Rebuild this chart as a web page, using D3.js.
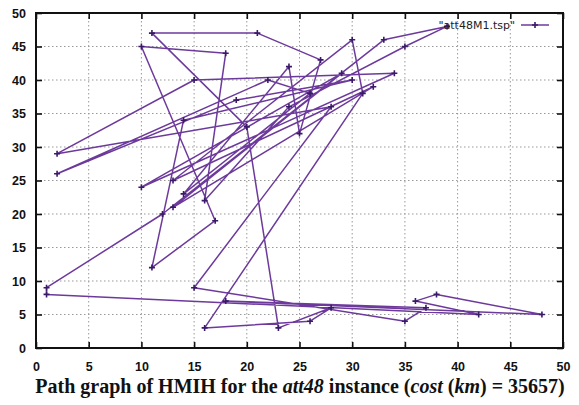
<!DOCTYPE html>
<html lang="en">
<head>
<meta charset="UTF-8">
<title>att48 path graph</title>
<script src="https://d3js.org/d3.v7.min.js"></script>
<style>
  body { margin: 0; background: #fff; }
  .tick text { font-family: "Liberation Sans Narrow", "Liberation Sans", Arial, sans-serif; font-weight: bold; font-size: 12.5px; fill: #111; }
  .grid line { stroke: #999; stroke-dasharray: 1.5,2.5; stroke-width: 1; }
  .caption { font-family: "Liberation Serif", "Times New Roman", serif; font-weight: bold; font-size: 20px; fill: #111; }
  .legend-text { font-family: "DejaVu Sans", sans-serif; font-size: 11px; fill: #222; }
</style>
</head>
<body>
<svg width="579" height="405"></svg>
<script>
// tour of the att48 instance (scaled coordinates), in visiting order
const tourX = [39, 33, 12, 1, 1, 42, 36, 38, 48, 18, 37, 35, 15, 28, 2, 15, 34, 10, 29, 13, 32, 13, 30, 31,
               16, 26, 28, 23, 20, 11, 21, 27, 25, 24, 14, 26, 22, 2, 19, 30, 14, 11, 17, 10, 18, 16, 24, 35];
const tourY = [48, 46, 20, 9, 8, 5, 7, 8, 5, 7, 6, 4, 9, 36, 29, 40, 41, 24, 41, 21, 39, 25, 46, 38,
               3, 4, 6, 3, 33, 47, 47, 43, 32, 42, 23, 38, 40, 26, 37, 40, 34, 12, 19, 45, 44, 22, 36, 45];
const xTicks = [0, 5, 10, 15, 20, 25, 30, 35, 40, 45, 50];
const yTicks = [0, 5, 10, 15, 20, 25, 30, 35, 40, 45, 50];
const legendLabel = "\"att48M1.tsp\"";

const svg = d3.select("svg");
const margin = {top: 13, right: 16, bottom: 57, left: 36};
const width = 579 - margin.left - margin.right,
      height = 405 - margin.top - margin.bottom;
const g = svg.append("g").attr("transform", `translate(${margin.left},${margin.top})`);

const x = d3.scaleLinear().domain([0, 50]).range([0, width]);
const y = d3.scaleLinear().domain([0, 50]).range([height, 0]);

// dotted grid
g.append("g").attr("class", "grid")
  .selectAll("line").data(xTicks.slice(1, -1)).enter().append("line")
  .attr("x1", d => x(d)).attr("x2", d => x(d)).attr("y1", 0).attr("y2", height);
g.append("g").attr("class", "grid")
  .selectAll("line").data(yTicks.slice(1, -1)).enter().append("line")
  .attr("y1", d => y(d)).attr("y2", d => y(d)).attr("x1", 0).attr("x2", width);

// axes with inward ticks (mirrored like gnuplot)
const xAxis = g.append("g").attr("transform", `translate(0,${height})`)
  .call(d3.axisBottom(x).tickValues(xTicks).tickSize(-6).tickPadding(14));
const yAxis = g.append("g")
  .call(d3.axisLeft(y).tickValues(yTicks).tickSize(-6).tickPadding(10));
g.append("g").call(d3.axisTop(x).tickValues(xTicks).tickSize(-6).tickFormat(""));
g.append("g").attr("transform", `translate(${width},0)`)
  .call(d3.axisRight(y).tickValues(yTicks).tickSize(-6).tickFormat(""));
g.selectAll(".domain").remove();
g.selectAll(".tick line").attr("stroke", "#111").attr("stroke-width", 1.6);
yAxis.selectAll(".tick text").attr("dy", "0.35em");

// border
g.append("rect").attr("width", width).attr("height", height)
  .attr("fill", "none").attr("stroke", "#111").attr("stroke-width", 2);

const color = "#6d3a9c";
const pts = tourX.map((d, i) => [d, tourY[i]]);
const line = d3.line().x(d => x(d[0])).y(d => y(d[1]));

g.append("path").datum(pts.concat([pts[0]]))
  .attr("d", line)
  .attr("fill", "none").attr("stroke", color).attr("stroke-width", 1.5)
  .attr("stroke-linejoin", "round");

// '+' markers
g.selectAll(".pt").data(pts).enter().append("path")
  .attr("class", "pt")
  .attr("transform", d => `translate(${x(d[0])},${y(d[1])})`)
  .attr("d", "M-3,0H3M0,-3V3")
  .attr("stroke", "#3a1a66").attr("stroke-width", 1.6);

// legend
const lg = svg.append("g").attr("transform", "translate(519,25)");
lg.append("text").attr("class", "legend-text").attr("x", -4).attr("y", 4)
  .attr("text-anchor", "end").text(legendLabel);
lg.append("line").attr("x1", 2).attr("x2", 30).attr("stroke", color).attr("stroke-width", 1.5);
lg.append("path").attr("transform", "translate(16,0)").attr("d", "M-3,0H3M0,-3V3")
  .attr("stroke", "#3a1a66").attr("stroke-width", 1.6);

// caption
const cap = svg.append("text").attr("class", "caption")
  .attr("x", 300).attr("y", 393).attr("text-anchor", "middle");
cap.append("tspan").text("Path graph of HMIH for the ");
cap.append("tspan").attr("font-style", "italic").text("att48");
cap.append("tspan").text(" instance (");
cap.append("tspan").attr("font-style", "italic").text("cost");
cap.append("tspan").text(" (");
cap.append("tspan").attr("font-style", "italic").text("km");
cap.append("tspan").text(") = 35657)");
</script>
</body>
</html>
